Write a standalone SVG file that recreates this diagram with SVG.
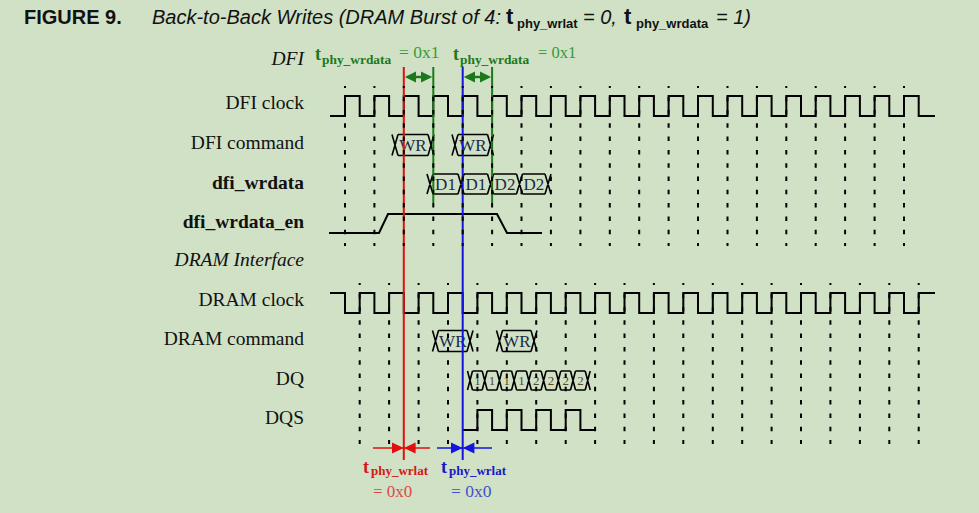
<svg xmlns="http://www.w3.org/2000/svg" width="979" height="513" viewBox="0 0 979 513">
<defs>
<style>
.bg{fill:#d0e1c5}
.lbl{font-family:"Liberation Serif","Times New Roman",serif;font-size:19.5px;fill:#111;text-anchor:end}
.it{font-style:italic}
.b{font-weight:bold}
.wave{fill:none;stroke:#000;stroke-width:2}
.bus{fill:none;stroke:#000;stroke-width:1.6}
.grid{fill:none;stroke:#000;stroke-width:2;stroke-dasharray:4.5 8.8;stroke-dashoffset:2.6}
.btxt{font-family:"Liberation Serif","Times New Roman",serif;font-size:17px;fill:#1c2a44;text-anchor:middle}
.dtxt{font-family:"Liberation Serif","Times New Roman",serif;font-size:13px;fill:#5a4a2a;text-anchor:middle}
.ser{font-family:"Liberation Serif","Times New Roman",serif}
</style>
</defs>
<rect class="bg" x="0" y="0" width="979" height="513"/>

<g id="title" font-family="'Liberation Sans',Arial,sans-serif" fill="#111">
<text x="24" y="24" font-size="20" font-weight="bold">FIGURE 9.</text>
<text y="24" font-size="20" font-style="italic"><tspan x="152">Back-to-Back Writes (DRAM Burst of 4: </tspan><tspan x="506" font-weight="bold" font-style="normal" font-size="22">t</tspan><tspan x="517" dy="4" font-weight="bold" font-style="normal" font-size="13">phy_wrlat</tspan><tspan x="583" dy="-4">= 0, </tspan><tspan x="624" font-weight="bold" font-style="normal" font-size="22">t</tspan><tspan x="636" dy="4" font-weight="bold" font-style="normal" font-size="13">phy_wrdata</tspan><tspan x="716" dy="-4">= 1)</tspan></text>
</g>

<g id="labels">
<text class="lbl it" x="304" y="65">DFI</text>
<text class="lbl" x="304" y="109">DFI clock</text>
<text class="lbl" x="304" y="149">DFI command</text>
<text class="lbl b" x="304" y="189">dfi_wrdata</text>
<text class="lbl b" x="304" y="228">dfi_wrdata_en</text>
<text class="lbl it" x="304" y="266">DRAM Interface</text>
<text class="lbl" x="304" y="306">DRAM clock</text>
<text class="lbl" x="304" y="345">DRAM command</text>
<text class="lbl" x="304" y="385">DQ</text>
<text class="lbl" x="304" y="424">DQS</text>
</g>

<g id="dfi_clock">
<path class="wave" d="M330,116 H345 V96 H359.7 V116 H374.4 V96 H389.1 V116 H403.8 V96 H418.6 V116 H433.3 V96 H448 V116 H462.7 V96 H477.4 V116 H492.1 V96 H506.8 V116 H521.5 V96 H536.2 V116 H550.9 V96 H565.7 V116 H580.4 V96 H595.1 V116 H609.8 V96 H624.5 V116 H639.2 V96 H653.9 V116 H668.6 V96 H683.3 V116 H698 V96 H712.8 V116 H727.5 V96 H742.2 V116 H756.9 V96 H771.6 V116 H786.3 V96 H801 V116 H815.7 V96 H830.4 V116 H845.1 V96 H859.9 V116 H874.6 V96 H889.3 V116 H904 V96 H918.7 V116 H935"/>
</g>

<g id="dfi_command">
<path class="bus" d="M392,134.5 L398,155.5 M392,155.5 L398,134.5 M398,134.5 H428 M398,155.5 H428 M428,134.5 L434,155.5 M428,155.5 L434,134.5"/>
<text class="btxt" x="413" y="151">WR</text>
<path class="bus" d="M452,134.5 L458,155.5 M452,155.5 L458,134.5 M458,134.5 H487.5 M458,155.5 H487.5 M487.5,134.5 L493.5,155.5 M487.5,155.5 L493.5,134.5"/>
<text class="btxt" x="472.8" y="151">WR</text>
</g>

<g id="dfi_wrdata">
<path class="bus" d="M427,174 L433,194 M427,194 L433,174 M433,174 H458 M433,194 H458 M458,174 L464,194 M458,194 L464,174 M464,174 H487.5 M464,194 H487.5 M487.5,174 L493.5,194 M487.5,194 L493.5,174 M493.5,174 H516.5 M493.5,194 H516.5 M516.5,174 L522.5,194 M516.5,194 L522.5,174 M522.5,174 H545 M522.5,194 H545 M545,174 L551,194 M545,194 L551,174"/>
<text class="btxt" x="445.5" y="190">D1</text>
<text class="btxt" x="475.8" y="190">D1</text>
<text class="btxt" x="505" y="190">D2</text>
<text class="btxt" x="533.8" y="190">D2</text>
</g>

<g id="dfi_wrdata_en">
<path class="wave" d="M329,233 H379 L388,214 H497 L507,233 H542"/>
</g>

<g id="dram_clock">
<path class="wave" d="M330,293 H345 V313 H359.7 V293 H374.4 V313 H389.1 V293 H403.8 V313 H418.6 V293 H433.3 V313 H448 V293 H462.7 V313 H477.4 V293 H492.1 V313 H506.8 V293 H521.5 V313 H536.2 V293 H550.9 V313 H565.7 V293 H580.4 V313 H595.1 V293 H609.8 V313 H624.5 V293 H639.2 V313 H653.9 V293 H668.6 V313 H683.3 V293 H698 V313 H712.8 V293 H727.5 V313 H742.2 V293 H756.9 V313 H771.6 V293 H786.3 V313 H801 V293 H815.7 V313 H830.4 V293 H845.1 V313 H859.9 V293 H874.6 V313 H889.3 V293 H904 V313 H918.7 V293 H935"/>
</g>

<g id="dram_command">
<path class="bus" d="M432.5,330.5 L438.5,351.5 M432.5,351.5 L438.5,330.5 M438.5,330.5 H467 M438.5,351.5 H467 M467,330.5 L473,351.5 M467,351.5 L473,330.5"/>
<text class="btxt" x="452.8" y="347">WR</text>
<path class="bus" d="M496.5,330.5 L502.5,351.5 M496.5,351.5 L502.5,330.5 M502.5,330.5 H531 M502.5,351.5 H531 M531,330.5 L537,351.5 M531,351.5 L537,330.5"/>
<text class="btxt" x="516.8" y="347">WR</text>
</g>

<g id="dq">
<path class="bus" d="M467.5,371 L472.5,390 M467.5,390 L472.5,371 M472.5,371 H482.2 M472.5,390 H482.2 M482.2,371 L487.2,390 M482.2,390 L487.2,371 M487.2,371 H496.9 M487.2,390 H496.9 M496.9,371 L501.9,390 M496.9,390 L501.9,371 M501.9,371 H511.6 M501.9,390 H511.6 M511.6,371 L516.6,390 M511.6,390 L516.6,371 M516.6,371 H526.3 M516.6,390 H526.3 M526.3,371 L531.3,390 M526.3,390 L531.3,371 M531.3,371 H541.1 M531.3,390 H541.1 M541.1,371 L546.1,390 M541.1,390 L546.1,371 M546.1,371 H555.8 M546.1,390 H555.8 M555.8,371 L560.8,390 M555.8,390 L560.8,371 M560.8,371 H570.5 M560.8,390 H570.5 M570.5,371 L575.5,390 M570.5,390 L575.5,371 M575.5,371 H585.2 M575.5,390 H585.2 M585.2,371 L590.2,390 M585.2,390 L590.2,371"/>
<text class="dtxt" x="477.4" y="385">1</text>
<text class="dtxt" x="492.1" y="385">1</text>
<text class="dtxt" x="506.8" y="385">1</text>
<text class="dtxt" x="521.5" y="385">1</text>
<text class="dtxt" x="536.2" y="385">2</text>
<text class="dtxt" x="550.9" y="385">2</text>
<text class="dtxt" x="565.7" y="385">2</text>
<text class="dtxt" x="580.4" y="385">2</text>
</g>

<g id="dqs">
<path class="wave" d="M462.7,430 H477.4 V410 H492.1 V430 H506.8 V410 H521.5 V430 H536.2 V410 H550.9 V430 H565.7 V410 H580.4 V430 H595.1"/>
</g>

<g id="connectors">
<g id="t_phy_wrdata" fill="#1a7a1a" stroke="#1a7a1a">
<line x1="433.3" y1="67" x2="433.3" y2="203" stroke-width="2"/>
<line x1="492.1" y1="67" x2="492.1" y2="203" stroke-width="2"/>
<line x1="408" y1="77" x2="429" y2="77" stroke-width="2.5"/>
<polygon stroke="none" points="404.8,77 416,71.5 416,82.5"/>
<polygon stroke="none" points="432.3,77 421,71.5 421,82.5"/>
<line x1="467" y1="77" x2="488" y2="77" stroke-width="2.5"/>
<polygon stroke="none" points="463.7,77 475,71.5 475,82.5"/>
<polygon stroke="none" points="491.1,77 480,71.5 480,82.5"/>
</g>
<g id="t_phy_wrlat_red" fill="#e01010" stroke="#e01010">
<line x1="403.8" y1="67" x2="403.8" y2="460" stroke-width="2"/>
<line x1="373" y1="448" x2="430" y2="448" stroke-width="1.6"/>
<polygon stroke="none" points="403.8,448 392,442.5 392,453.5"/>
<polygon stroke="none" points="403.8,448 415.6,442.5 415.6,453.5"/>
</g>
<g id="t_phy_wrlat_blue" fill="#1414e0" stroke="#1414e0">
<line x1="462.7" y1="67" x2="462.7" y2="460" stroke-width="2"/>
<line x1="437" y1="448" x2="492" y2="448" stroke-width="1.6"/>
<polygon stroke="none" points="462.7,448 451,442.5 451,453.5"/>
<polygon stroke="none" points="462.7,448 474.4,442.5 474.4,453.5"/>
</g>
</g>

<g id="grid">
<path class="grid" d="M345,86 V246 M374.4,86 V246 M403.8,86 V246 M433.3,86 V246 M462.7,86 V246 M492.1,86 V246 M521.5,86 V246 M550.9,86 V246 M580.4,86 V246 M609.8,86 V246 M639.2,86 V246 M668.6,86 V246 M698,86 V246 M727.5,86 V246 M756.9,86 V246 M786.3,86 V246 M815.7,86 V246 M845.1,86 V246 M874.6,86 V246 M904,86 V246"/>
<path class="grid" d="M359.7,283 V444 M389.1,283 V444 M418.6,283 V444 M448,283 V444 M477.4,283 V444 M506.8,283 V444 M536.2,283 V444 M565.7,283 V444 M595.1,283 V444 M624.5,283 V444 M653.9,283 V444 M683.3,283 V444 M712.8,283 V444 M742.2,283 V444 M771.6,283 V444 M801,283 V444 M830.4,283 V444 M859.9,283 V444 M889.3,283 V444 M918.7,283 V444"/>
</g>

<g id="annotations" class="ser">
<text y="60" fill="#1a7a1a"><tspan x="315" font-size="18" font-weight="bold">t</tspan><tspan x="322" dy="4" font-size="13.4" font-weight="bold">phy_wrdata</tspan><tspan x="399" dy="-6" font-size="17.5" fill="#3a9a3a">= 0x1</tspan></text>
<text y="60" fill="#1a7a1a"><tspan x="453" font-size="18" font-weight="bold">t</tspan><tspan x="460" dy="4" font-size="13.4" font-weight="bold">phy_wrdata</tspan><tspan x="538" dy="-6" font-size="16.5" fill="#3a9a3a">= 0x1</tspan></text>
<text y="473" fill="#d41818"><tspan x="363" font-size="18" font-weight="bold">t</tspan><tspan x="371" dy="2" font-size="13" font-weight="bold">phy_wrlat</tspan></text>
<text x="373" y="497" font-size="17" fill="#e04848">= 0x0</text>
<text y="473" fill="#1818c8"><tspan x="441" font-size="18" font-weight="bold">t</tspan><tspan x="449" dy="2" font-size="13" font-weight="bold">phy_wrlat</tspan></text>
<text x="451" y="497" font-size="17.5" fill="#4050d0">= 0x0</text>
</g>
</svg>
